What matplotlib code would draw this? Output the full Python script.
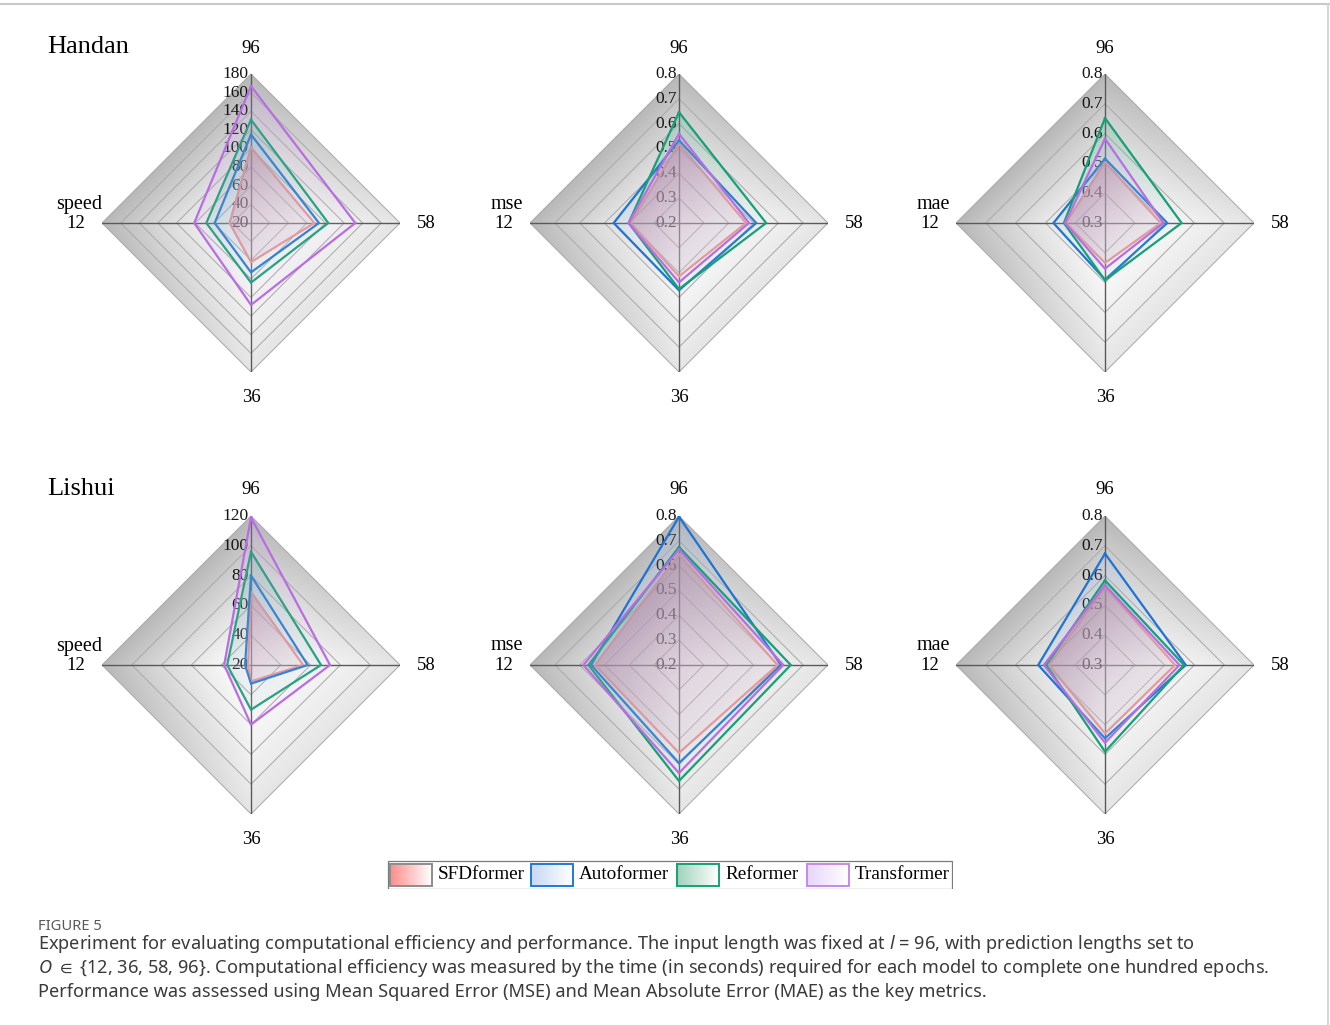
import numpy as np
import matplotlib
matplotlib.use("Agg")
import matplotlib.pyplot as plt
from matplotlib.patches import Polygon, Rectangle
from matplotlib.image import AxesImage
from matplotlib.lines import Line2D
from matplotlib.transforms import offset_copy
from matplotlib.colors import to_rgb

plt.rcParams["font.family"] = ["Liberation Serif", "DejaVu Serif"]
plt.rcParams["mathtext.fontset"] = "custom"
plt.rcParams["mathtext.it"] = "Noto Sans:italic"
plt.rcParams["mathtext.rm"] = "Noto Sans"
plt.rcParams["mathtext.fallback"] = "stixsans"

# Prediction horizons, clockwise from the top spoke
horizons = ["96", "58", "36", "12"]
models = ["SFDformer", "Autoformer", "Reformer", "Transformer"]
cities = ["Handan", "Lishui"]
metrics = ["speed", "mse", "mae"]

line_colors = ["#f28b8b", "#1f74d2", "#17a078", "#b86ee2"]
fill_colors = ["#f0708a", "#86aeea", "#3aad85", "#c793e8"]
fill_alpha = [0.52, 0.18, 0.22, 0.18]
legend_edges = ["#8c8c8c", "#1f7ad6", "#17a078", "#c48ae6"]
legend_tints = ["#ff8c8c", "#c9d8f4", "#9fd3bb", "#e6d6f8"]

# Rows follow `models`, columns follow `horizons`
handan_speed = [[101, 88, 62, 43],
                [115, 93, 73, 59],
                [131, 103, 84, 68],
                [167, 132, 108, 81]]
handan_mse = [[0.520, 0.470, 0.415, 0.395],
              [0.533, 0.511, 0.471, 0.463],
              [0.646, 0.551, 0.466, 0.403],
              [0.559, 0.482, 0.439, 0.403]]
handan_mae = [[0.504, 0.487, 0.434, 0.432],
              [0.516, 0.509, 0.490, 0.473],
              [0.652, 0.557, 0.492, 0.438],
              [0.583, 0.496, 0.453, 0.434]]
lishui_speed = [[69, 55, 31, 22],
                [80, 58, 32.5, 24],
                [96, 67, 50, 36],
                [119, 73, 60, 38]]
lishui_mse = [[0.645, 0.597, 0.554, 0.538],
              [0.797, 0.610, 0.595, 0.554],
              [0.675, 0.650, 0.667, 0.565],
              [0.665, 0.620, 0.635, 0.585]]
lishui_mae = [[0.562, 0.535, 0.530, 0.488],
              [0.674, 0.571, 0.546, 0.524],
              [0.584, 0.565, 0.591, 0.497],
              [0.568, 0.550, 0.561, 0.505]]

# Radial tick values of each panel (first value sits at the centre)
handan_speed_ticks = [20, 40, 60, 80, 100, 120, 140, 160, 180]
lishui_speed_ticks = [20, 40, 60, 80, 100, 120]
mse_ticks = [0.2, 0.3, 0.4, 0.5, 0.6, 0.7, 0.8]
mae_ticks = [0.3, 0.4, 0.5, 0.6, 0.7, 0.8]

panels = [
    [(handan_speed, handan_speed_ticks, "{:.0f}"), (handan_mse, mse_ticks, "{:.1f}"), (handan_mae, mae_ticks, "{:.1f}")],
    [(lishui_speed, lishui_speed_ticks, "{:.0f}"), (lishui_mse, mse_ticks, "{:.1f}"), (lishui_mae, mae_ticks, "{:.1f}")],
]

W, H = 1330, 1025
fig = plt.figure(figsize=(W / 100, H / 100), dpi=100)
fig.patch.set_facecolor("white")

angles = np.arange(len(horizons)) * 2 * np.pi / len(horizons)
angles_closed = np.append(angles, angles[0])

NPIX = 360
uu, vv = np.meshgrid(np.linspace(0, 1, NPIX), np.linspace(0, 1, NPIX))


def add_axes_image(ax, rgba, clip_patch, z):
    im = AxesImage(ax, origin="lower", extent=(0, 1, 0, 1), interpolation="bilinear")
    im.set_data(rgba)
    im.set_transform(ax.transAxes)
    im.set_clip_path(clip_patch)
    im.set_zorder(z)
    ax.add_image(im)


def shaded_background(ax, rmax):
    x = 2 * uu - 1
    y = 2 * vv - 1
    r = np.abs(x) + np.abs(y)
    side = (y - x) / np.maximum(r, 1e-6)
    dark = np.clip(r ** 1.25 * (0.19 + 0.09 * side), 0, 1)
    g = 1 - dark
    rgba = np.dstack([g, g, g, np.ones_like(g)])
    diamond = Polygon(np.column_stack([angles, [rmax] * len(angles)]),
                      closed=True, transform=ax.transData)
    add_axes_image(ax, rgba, diamond, 0)


def gradient_fill(ax, values, color, alpha0, z):
    pts = np.column_stack([angles, values])
    disp = ax.transData.transform(pts)
    axc = ax.transAxes.inverted().transform(disp)
    proj = axc[:, 0] - axc[:, 1]
    pmin, pmax = proj.min(), proj.max()
    t = np.clip(((uu - vv) - pmin) / (pmax - pmin), 0, 1)
    c = np.array(to_rgb(color))
    w = 0.55 * t
    rgb = c[None, None, :] * (1 - w[..., None]) + w[..., None]
    alpha = alpha0 * (1 - 0.65 * t)
    rgba = np.dstack([rgb, alpha])
    poly = Polygon(pts, closed=True, transform=ax.transData)
    add_axes_image(ax, rgba, poly, z)


def radar(ax, data, ticks, fmt, varname):
    rmin, rmax = ticks[0], ticks[-1]
    ax.set_theta_zero_location("N")
    ax.set_theta_direction(-1)
    ax.set_ylim(rmin, rmax)
    ax.set_xticks([])
    ax.set_yticks([])
    ax.grid(False)
    ax.set_frame_on(False)

    shaded_background(ax, rmax)

    for tv in ticks[1:]:
        ax.plot(angles_closed, [tv] * len(angles_closed), color="#ababab", lw=0.75, zorder=1)
    for a in angles:
        ax.plot([a, a], [rmin, rmax], color="#5a5a5a", lw=1.0, zorder=1.5)

    tick_tr = offset_copy(ax.transData, fig=fig, x=-2.5, y=0, units="dots")
    for tv in ticks:
        ax.text(0, tv, fmt.format(tv), transform=tick_tr, ha="right", va="center",
                fontsize=12.5, color="#151515", zorder=2)

    for i, vals in enumerate(data):
        gradient_fill(ax, vals, fill_colors[i], fill_alpha[i], 3 + 2 * i)
        ax.plot(angles_closed, np.append(vals, vals[0]),
                color=line_colors[i], lw=1.6, zorder=4 + 2 * i, solid_joinstyle="miter")

    off = 26 / 298
    ax.text(0.5, 1 + off, horizons[0], transform=ax.transAxes, ha="center", va="center", fontsize=13.5)
    ax.text(1 + off, 0.5, horizons[1], transform=ax.transAxes, ha="center", va="center", fontsize=13.5)
    ax.text(0.5, -off, horizons[2], transform=ax.transAxes, ha="center", va="center", fontsize=13.5)
    ax.text(-0.088, 0.5, horizons[3], transform=ax.transAxes, ha="center", va="center", fontsize=13.5)
    ax.text(-0.077, 0.5 + 19 / 298, varname, transform=ax.transAxes, ha="center", va="center", fontsize=14.5)


centers_x = [251, 679, 1105]
centers_y = [223, 665]
R = 149
for row in range(2):
    for col in range(3):
        cx, cy = centers_x[col], centers_y[row]
        ax = fig.add_axes([(cx - R) / W, 1 - (cy + R) / H, 2 * R / W, 2 * R / H], projection="polar")
        data, ticks, fmt = panels[row][col]
        radar(ax, data, ticks, fmt, metrics[col])

fig.text(47 / W, 1 - 47 / H, cities[0], ha="left", va="center", fontsize=19)
fig.text(47 / W, 1 - 489 / H, cities[1], ha="left", va="center", fontsize=19)

# Legend row with gradient swatches
lx0, lx1, ly0, ly1 = 387, 953, 860, 889
lax = fig.add_axes([lx0 / W, 1 - ly1 / H, (lx1 - lx0) / W, (ly1 - ly0) / H])
lax.axis("off")
lax.add_patch(Rectangle((0.5, 0.5), lx1 - lx0 - 1, ly1 - ly0 - 1, fill=False, ec="#7a7a7a", lw=0.9))
swatch_x = [3, 144, 290, 420]
grad = np.linspace(0, 1, 64)
for i, name in enumerate(models):
    c = np.array(to_rgb(legend_tints[i]))
    row_rgb = c[None, :] * (1 - grad[:, None]) + grad[:, None]
    img = np.repeat(row_rgb[None, :, :], 8, axis=0)
    x0 = swatch_x[i]
    lax.imshow(img, extent=(x0, x0 + 42, 3.5, 25.5), aspect="auto", interpolation="bilinear", zorder=1)
    lax.add_patch(Rectangle((x0, 3.5), 42, 22, fill=False, ec=legend_edges[i], lw=1.4, zorder=2))
    lax.text(x0 + 48, 14.5, name, ha="left", va="center", fontsize=13.8)
lax.set_xlim(0, lx1 - lx0)
lax.set_ylim(0, ly1 - ly0)

# Caption
cap_family = ["Noto Sans", "DejaVu Sans"]
fig.text(38 / W, 1 - 926 / H, "FIGURE 5", ha="left", va="center", fontsize=10.6,
         color="#5a5a5a", family=cap_family)
cap_lines = [
    "Experiment for evaluating computational efficiency and performance. The input length was fixed at $l$ = 96, with prediction lengths set to",
    "$O$ $\\in$ {12, 36, 58, 96}. Computational efficiency was measured by the time (in seconds) required for each model to complete one hundred epochs.",
    "Performance was assessed using Mean Squared Error (MSE) and Mean Absolute Error (MAE) as the key metrics.",
]
for k, s in enumerate(cap_lines):
    fig.text(38 / W, 1 - (944 + 24 * k) / H, s, ha="left", va="center", fontsize=13.1,
             color="#3a3a3a", family=cap_family)

# Page frame lines
fig.add_artist(Line2D([0, 1], [1 - 4 / H, 1 - 4 / H], transform=fig.transFigure, color="#c8c8c8", lw=1.5))
fig.add_artist(Line2D([1328 / W, 1328 / W], [0, 1 - 4 / H], transform=fig.transFigure, color="#d0d0d0", lw=1.2))

fig.savefig("out.png", dpi=100)
